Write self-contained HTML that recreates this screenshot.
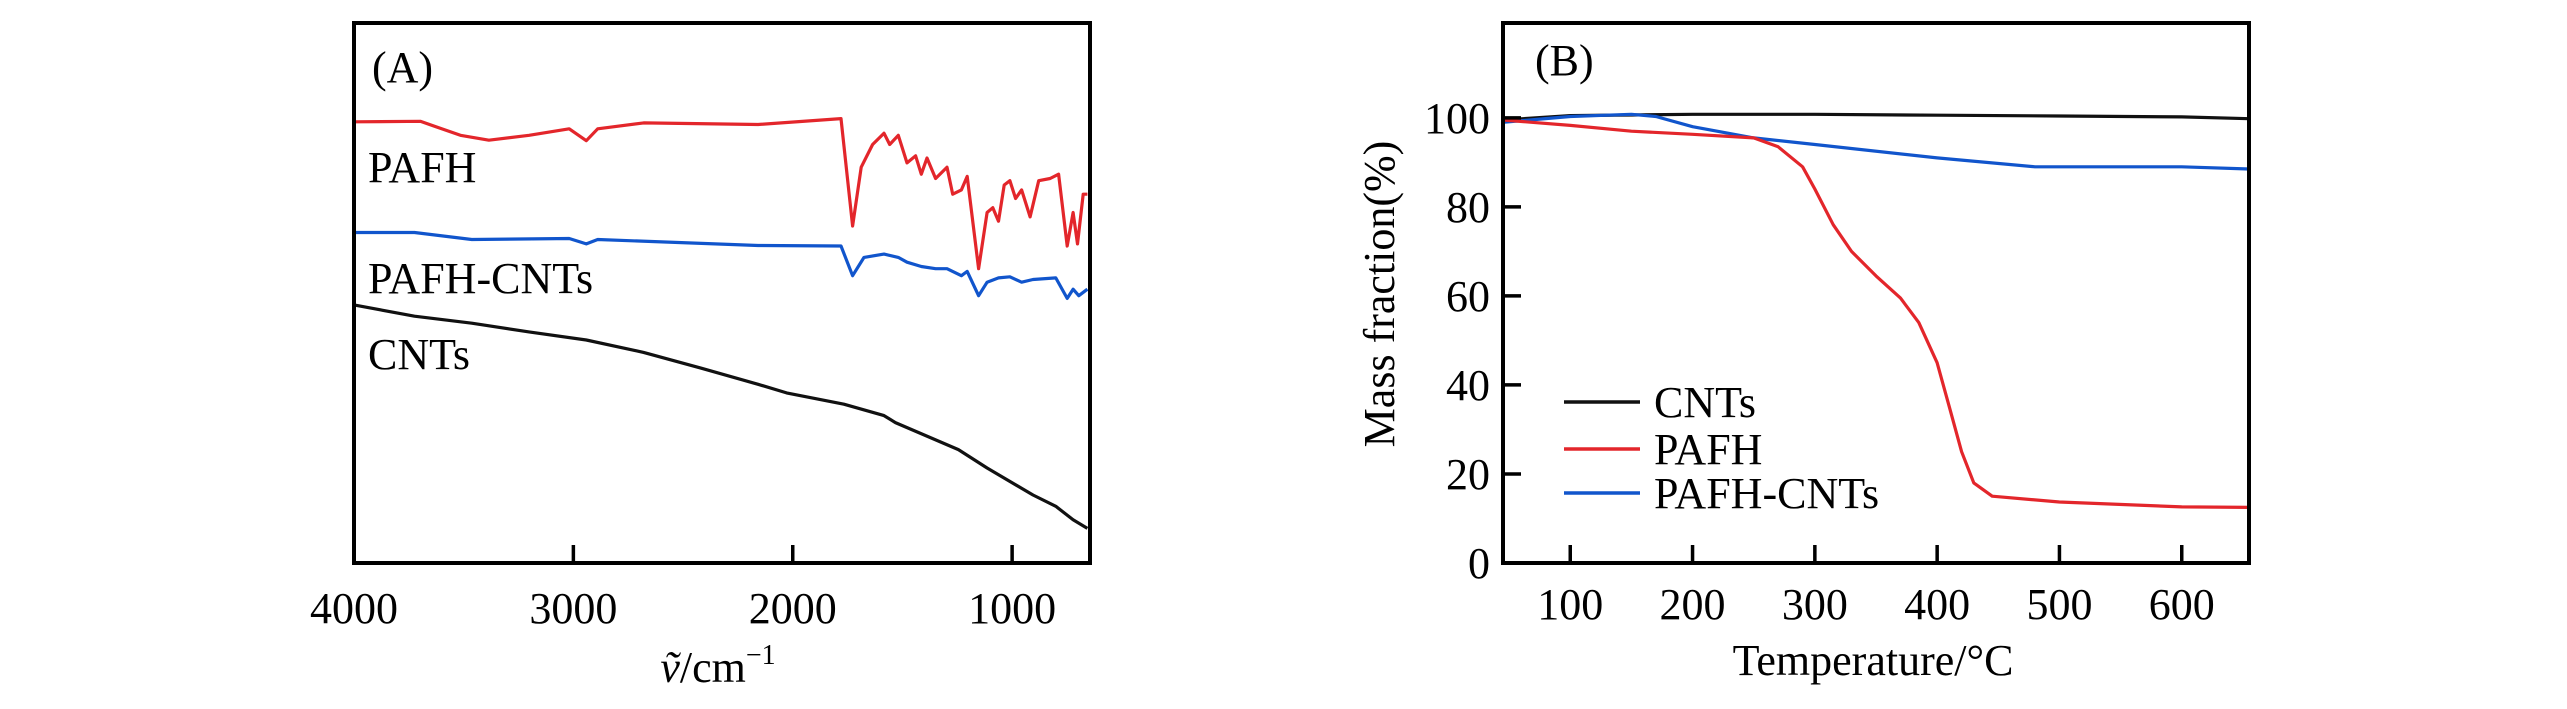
<!DOCTYPE html>
<html><head><meta charset="utf-8"><style>
html,body{margin:0;padding:0;background:#fff;}
svg{display:block;font-family:"Liberation Serif",serif;}
</style></head><body>
<svg id="fig" width="2567" height="709" viewBox="0 0 2567 709">
<g id="pa"></g>
<g id="pb"></g>
</svg>
<script>
// Panel A (FTIR) data
const aRedX=[4000,3698,3515,3385,3202,3019,2941,2889,2680,2158,1780,1727,1688,1636,1584,1558,1519,1479,1440,1414,1388,1349,1297,1271,1231,1205,1153,1114,1088,1062,1036,1010,984,957,918,879,827,788,749,722,702,676,657];
const aRedY=[81.7,81.8,79.2,78.3,79.2,80.4,78.2,80.4,81.5,81.2,82.3,62.4,73.3,77.5,79.6,77.5,79.2,74.1,75.4,72.0,75.0,71.2,73.3,68.3,69.1,71.6,54.5,64.9,65.8,63.3,70.0,70.8,67.5,69.1,64.1,70.8,71.2,72.0,58.7,64.9,59.1,68.3,68.3];
const aBlueX=[4000,3724,3463,3019,2941,2889,2158,1780,1727,1675,1584,1519,1479,1414,1349,1297,1231,1205,1153,1114,1062,1010,957,905,801,749,722,696,657];
const aBlueY=[61.2,61.2,59.9,60.1,59.1,59.9,58.8,58.7,53.2,56.6,57.2,56.6,55.7,54.9,54.5,54.5,53.2,54.0,49.5,52.0,52.8,53.0,52.0,52.5,52.8,49.0,50.7,49.5,50.7];
const aBlackX=[4000,3724,3463,3202,2941,2680,2419,2158,2028,1767,1584,1532,1245,1114,905,801,722,657];
const aBlackY=[47.8,45.7,44.4,42.8,41.3,39.0,36.1,33.1,31.5,29.4,27.3,26.0,21.0,17.6,12.6,10.5,8.0,6.4];
const aTicks=[4000,3000,2000,1000];
// Panel B (TGA) data
const bCntX=[45,100,200,300,400,500,600,655];
const bCntY=[99.5,100.5,100.8,100.8,100.6,100.4,100.2,99.8];
const bPafhX=[45,100,150,200,250,270,290,300,315,330,350,370,385,400,410,420,430,445,500,600,655];
const bPafhY=[99.5,98.3,97.0,96.3,95.5,93.5,89,84,76,70,64.5,59.5,54,45,35,25,18,15,13.7,12.6,12.5];
const bMixX=[45,100,150,170,200,250,300,400,480,600,655];
const bMixY=[99,100.3,100.8,100.3,98,95.5,94,91,89,89,88.5];
const bXTicks=[100,200,300,400,500,600];
const bYTicks=[0,20,40,60,80,100];

const NS="http://www.w3.org/2000/svg";
function mk(tag,attrs,parent){const e=document.createElementNS(NS,tag);for(const k in attrs)e.setAttribute(k,attrs[k]);parent.appendChild(e);return e;}
function txt(parent,x,y,s,anchor,size){const t=mk('text',{x:x,y:y,'font-size':size||44,'text-anchor':anchor||'start',fill:'#000'},parent);t.textContent=s;return t;}

// Panel A
const pa=document.getElementById('pa');
const aL=354,aR=1090,aT=23,aB=563;
const ax=v=>aL+(4000-v)/(4000-645)*(aR-aL);
const ay=v=>aB-v/100*(aB-aT);
function line(parent,xs,ys,fx,fy,color,name){
  let d='';xs.forEach((x,i)=>{d+=(i?'L':'M')+fx(x).toFixed(1)+','+fy(ys[i]).toFixed(1);});
  const p=mk('path',{d:d,fill:'none',stroke:color,'stroke-width':3.2,'stroke-linejoin':'round'},parent);
  
  
}
line(pa,aRedX,aRedY,ax,ay,'#e3262b','pafh-ftir-line');
line(pa,aBlueX,aBlueY,ax,ay,'#1155cc','pafh-cnts-ftir-line');
line(pa,aBlackX,aBlackY,ax,ay,'#111','cnts-ftir-line');
const fa=mk('rect',{x:aL,y:aT,width:aR-aL,height:aB-aT,fill:'none',stroke:'#000','stroke-width':4},pa);


aTicks.forEach(v=>{
  if(v!==4000){const tk=mk('line',{x1:ax(v),x2:ax(v),y1:aB,y2:aB-18,stroke:'#000','stroke-width':3.5},pa);
  
  }
  const t=txt(pa,ax(v),623,String(v),'middle');
  
  
});
let t;
t=txt(pa,372,82,'(A)');
t=txt(pa,368,182,'PAFH');
t=txt(pa,368,293,'PAFH-CNTs');
t=txt(pa,368,369,'CNTs');
t=mk('text',{x:718,y:682,'font-size':44,'text-anchor':'middle'},pa);
t.innerHTML='<tspan font-style="italic">ṽ</tspan>/cm<tspan font-size="28" dy="-18">−1</tspan>';


// Panel B
const pb=document.getElementById('pb');
const bL=1503,bR=2249,bT=23,bB=563;
const bx=v=>bL+(v-45)/(655-45)*(bR-bL);
const by=v=>bB-v/121.3*(bB-bT);
line(pb,bCntX,bCntY,bx,by,'#111','cnts-tga-line');
line(pb,bMixX,bMixY,bx,by,'#1155cc','pafh-cnts-tga-line');
line(pb,bPafhX,bPafhY,bx,by,'#e3262b','pafh-tga-line');
const fb=mk('rect',{x:bL,y:bT,width:bR-bL,height:bB-bT,fill:'none',stroke:'#000','stroke-width':4},pb);


bXTicks.forEach(v=>{
  const tk=mk('line',{x1:bx(v),x2:bx(v),y1:bB,y2:bB-18,stroke:'#000','stroke-width':3.5},pb);
  
  
  const l=txt(pb,bx(v),619,String(v),'middle');
  
  
});
bYTicks.forEach(v=>{
  if(v!==0){const tk=mk('line',{x1:bL,x2:bL+18,y1:by(v),y2:by(v),stroke:'#000','stroke-width':3.5},pb);
  
  }
  const l=txt(pb,1490,by(v)+15,String(v),'end');
  
  
});
t=txt(pb,1535,75,'(B)');
t=txt(pb,1873,675,'Temperature/°C','middle');
t=txt(pb,0,0,'Mass fraction(%)','middle');t.setAttribute('transform','translate(1394,294) rotate(-90)');

const leg=[['CNTs','#111',402],['PAFH','#e3262b',449],['PAFH-CNTs','#1155cc',493]];
leg.forEach(e=>{
  const g=mk('g',{},pb);
  
  
  mk('line',{x1:1564,x2:1640,y1:e[2],y2:e[2],stroke:e[1],'stroke-width':3.5},g);
  txt(g,1654,e[2]+15,e[0]);
});
</script>
</body></html>
